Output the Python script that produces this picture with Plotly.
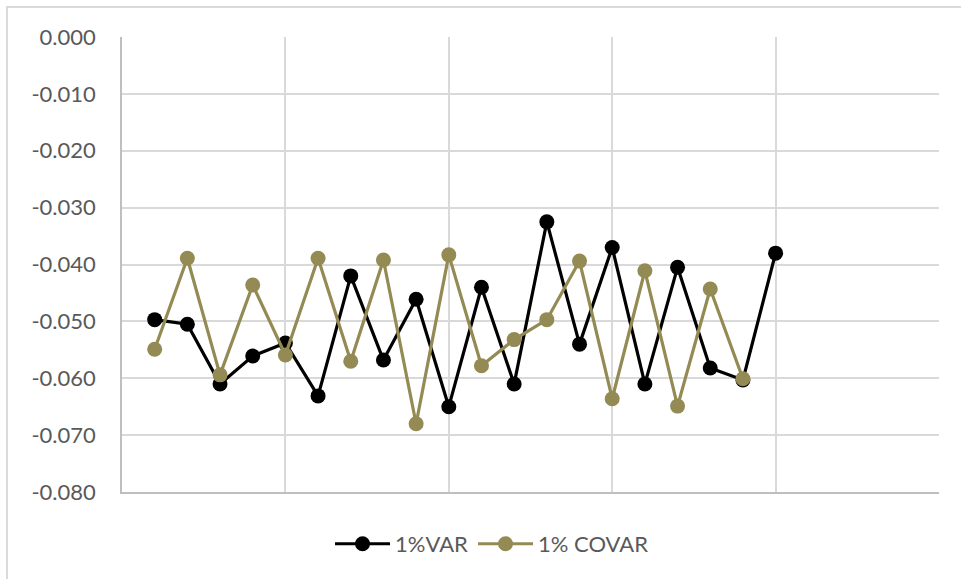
import plotly.graph_objects as go

# Observation index (1..20) and the two risk series
obs = list(range(1, 21))
var_1pct = [-0.0497, -0.0505, -0.0610, -0.0561, -0.0538, -0.0631, -0.0420, -0.0568,
            -0.0461, -0.0650, -0.0440, -0.0610, -0.0325, -0.0540, -0.0370, -0.0610,
            -0.0405, -0.0582, -0.0603, -0.0380]
covar_1pct = [-0.0549, -0.0389, -0.0594, -0.0436, -0.0559, -0.0389, -0.0570, -0.0392,
              -0.0680, -0.0383, -0.0578, -0.0532, -0.0497, -0.0394, -0.0636, -0.0411,
              -0.0649, -0.0443, -0.0601]

y_ticks = [0.0, -0.01, -0.02, -0.03, -0.04, -0.05, -0.06, -0.07, -0.08]
y_tick_labels = ["0.000", "-0.010", "-0.020", "-0.030", "-0.040", "-0.050",
                 "-0.060", "-0.070", "-0.080"]

BLACK = "#000000"
OLIVE = "#948A54"
GRID = "#D9D9D9"
AXIS = "#BFBFBF"
TEXT = "#595959"
FONT = "Lato, 'Open Sans', sans-serif"

fig = go.Figure()
fig.add_trace(go.Scatter(
    x=obs, y=var_1pct, name="1%VAR", mode="lines+markers",
    line=dict(color=BLACK, width=3.2),
    marker=dict(color=BLACK, size=15),
))
fig.add_trace(go.Scatter(
    x=obs[:len(covar_1pct)], y=covar_1pct, name="1% COVAR", mode="lines+markers",
    line=dict(color=OLIVE, width=3.2),
    marker=dict(color=OLIVE, size=15),
))

# outer chart frame
fig.add_shape(type="rect", xref="paper", yref="paper",
              x0=-0.1408, x1=1.06, y0=-0.25, y1=1.066,
              line=dict(color=GRID, width=2), layer="below")

fig.update_layout(
    width=961, height=579,
    margin=dict(l=122, r=22, t=37, b=87),
    paper_bgcolor="white", plot_bgcolor="white",
    font=dict(family=FONT, size=22, color=TEXT),
    showlegend=True,
    legend=dict(orientation="h", xref="container", yref="container",
                x=0.512, y=0.0605, xanchor="center", yanchor="middle",
                font=dict(family=FONT, size=22, color=TEXT),
                itemwidth=55, bgcolor="rgba(0,0,0,0)"),
)
fig.update_xaxes(range=[0, 25], tick0=0, dtick=5, showticklabels=False,
                 showgrid=True, gridcolor=GRID, gridwidth=1.5,
                 showline=True, linecolor=AXIS, linewidth=1.5,
                 zeroline=False, ticks="", fixedrange=True)
fig.update_yaxes(range=[-0.08, 0], tickvals=y_ticks, ticktext=y_tick_labels,
                 showgrid=True, gridcolor=GRID, gridwidth=1.5,
                 showline=True, linecolor=AXIS, linewidth=1.5,
                 zeroline=False, ticks="", ticklabelstandoff=20,
                 tickfont=dict(family=FONT, size=22, color=TEXT), fixedrange=True)

fig.write_html("out.html")
